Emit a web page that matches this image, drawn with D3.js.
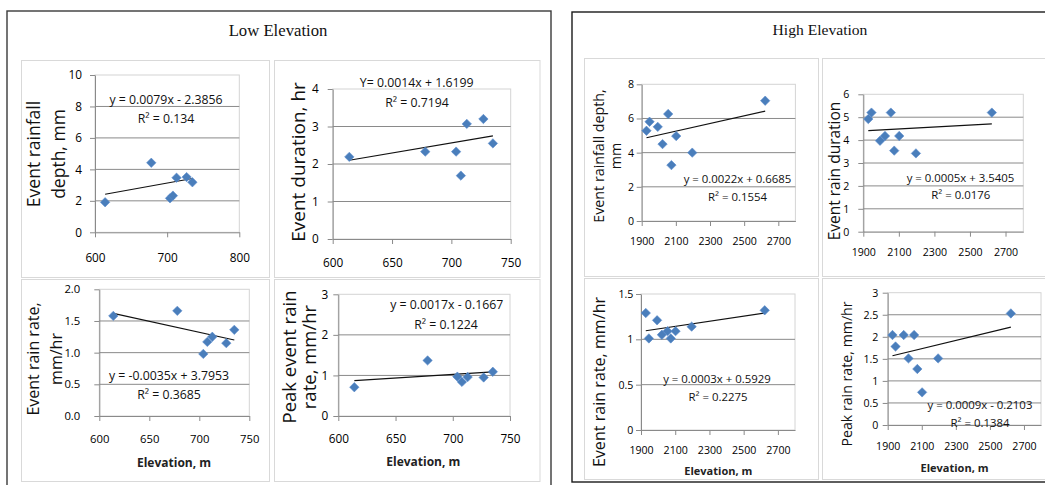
<!DOCTYPE html>
<html><head><meta charset="utf-8">
<script src="https://cdn.jsdelivr.net/npm/d3@7"></script>
<style>body{margin:0;background:#fff} svg{display:block}</style>
</head><body>
<svg id="c" width="1045" height="485"></svg>
<script>
// ---------------- DATA ----------------
const lowElevation = [614, 678, 704, 708, 713, 727, 735];
const lowDepth     = [1.91, 4.42, 2.16, 2.33, 3.47, 3.51, 3.18];
const lowDuration  = [2.19, 2.33, 2.33, 1.69, 3.07, 3.20, 2.55];
const lowRate      = [1.58, 1.66, 0.98, 1.17, 1.25, 1.15, 1.36];
const lowPeak      = [0.71, 1.37, 0.97, 0.84, 0.96, 0.95, 1.09];

const highElevation = [1928, 1946, 1994, 2022, 2055, 2074, 2102, 2196, 2623];
const highDepth     = [5.28, 5.81, 5.51, 4.50, 6.26, 3.27, 4.97, 4.00, 7.04];
const highDuration  = [4.92, 5.20, 3.97, 4.18, 5.20, 3.54, 4.18, 3.42, 5.20];
const highRate      = [1.29, 1.01, 1.21, 1.05, 1.09, 1.01, 1.09, 1.14, 1.32];
const highPeak      = [2.04, 1.78, 2.04, 1.51, 2.04, 1.27, 0.74, 1.51, 2.53];

// trend line values at the first and last elevation
const lowDepthTrend    = [2.42, 3.42];
const lowDurationTrend = [2.10, 2.75];
const lowRateTrend     = [1.62, 1.20];
const lowPeakTrend     = [0.87, 1.09];
const highDepthTrend    = [4.87, 6.43];
const highDurationTrend = [4.41, 4.71];
const highRateTrend     = [1.095, 1.29];
const highPeakTrend     = [1.57, 2.22];

const equations = {
  L1: ["y = 0.0079x - 2.3856", "R\u00b2 = 0.134"],
  L2: ["Y= 0.0014x + 1.6199", "R\u00b2 = 0.7194"],
  L3: ["y = -0.0035x + 3.7953", "R\u00b2 = 0.3685"],
  L4: ["y = 0.0017x - 0.1667", "R\u00b2 = 0.1224"],
  H1: ["y = 0.0022x + 0.6685", "R\u00b2 = 0.1554"],
  H2: ["y = 0.0005x + 3.5405", "R\u00b2 = 0.0176"],
  H3: ["y = 0.0003x + 0.5929", "R\u00b2 = 0.2275"],
  H4: ["y = 0.0009x - 0.2103", "R\u00b2 = 0.1384"]
};
const yTitles = {
  L1: ["Event rainfall", "depth, mm"],
  L2: ["Event duration, hr"],
  L3: ["Event rain rate,", "mm/hr"],
  L4: ["Peak event rain", "rate, mm/hr"],
  H1: ["Event rainfall depth,", "mm"],
  H2: ["Event rain duration"],
  H3: ["Event rain rate, mm/hr"],
  H4: ["Peak rain rate, mm/hr"]
};
const xTitle = "Elevation, m";
const groupTitles = ["Low Elevation", "High Elevation"];

const lowXTicksA = [600, 700, 800];
const lowXTicksB = [600, 650, 700, 750];
const highXTicks = [1900, 2100, 2300, 2500, 2700];
const yTicksL1 = [0, 2, 4, 6, 8, 10];
const yTicksL2 = [0, 1, 2, 3, 4];
const yTicksL3 = [0, 0.5, 1, 1.5, 2];
const yTicksL4 = [0, 1, 2, 3];
const yTicksH1 = [0, 2, 4, 6, 8];
const yTicksH2 = [0, 1, 2, 3, 4, 5, 6];
const yTicksH3 = [0, 0.5, 1, 1.5];
const yTicksH4 = [0, 0.5, 1, 1.5, 2, 2.5, 3];

// ---------------- LAYOUT ----------------
const fmtInt = d3.format("d");
const fmt1 = d3.format(".1f");
const fmtPlain = d => String(d);
const panels = [
  {id:"L1", xs:lowElevation, ys:lowDepth, trend:lowDepthTrend, xDom:[600,800], xTicks:lowXTicksA, yDom:[0,10], yTicks:yTicksL1, fmt:fmtInt,
   plot:[95,239.3,75,232.3], tf:11.8, yOff:13, xLab:262, ef:12.3, eq:[[166,104],[166,123]], tt:{lines:[40.3,64.5], cy:154, f:17.5}},
  {id:"L2", xs:lowElevation, ys:lowDuration, trend:lowDurationTrend, xDom:[600,750], xTicks:lowXTicksB, yDom:[0,4], yTicks:yTicksL2, fmt:fmtInt,
   plot:[332.7,510.7,89,239], tf:11.8, yOff:14, xLab:267, ef:12.3, eq:[[416.7,87],[417,107]], tt:{lines:[305], cy:162, f:19}},
  {id:"L3", xs:lowElevation, ys:lowRate, trend:lowRateTrend, xDom:[600,750], xTicks:lowXTicksB, yDom:[0,2], yTicks:yTicksL3, fmt:fmt1,
   plot:[99.3,249.3,289.3,416], tf:11.3, yOff:19, xLab:443, ef:12.3, eq:[[169,380],[169,399]], tt:{lines:[38.5,61.5], cy:359, f:16}, xt:[174,467,12]},
  {id:"L4", xs:lowElevation, ys:lowPeak, trend:lowPeakTrend, xDom:[600,750], xTicks:lowXTicksB, yDom:[0,3], yTicks:yTicksL4, fmt:fmtInt,
   plot:[338.3,510,294.3,416], tf:11.8, yOff:10, xLab:443, ef:12.3, eq:[[446.7,309],[446,329]], tt:{lines:[296,316], cy:357, f:18.5}, xt:[423.3,466,12]},
  {id:"H1", xs:highElevation, ys:highDepth, trend:highDepthTrend, xDom:[1900,2800], xTicks:highXTicks, yDom:[0,8], yTicks:yTicksH1, fmt:fmtInt,
   plot:[641.7,795.4,84.3,221], tf:10.6, yOff:7.7, xLab:245, ef:11.4, eq:[[737.5,183],[737.5,200.7]], tt:{lines:[604,621], cy:156, f:14.3}},
  {id:"H2", xs:highElevation, ys:highDuration, trend:highDurationTrend, xDom:[1900,2800], xTicks:highXTicks, yDom:[0,6], yTicks:yTicksH2, fmt:fmtInt,
   plot:[863.3,1023.3,94.3,231.7], tf:10.6, yOff:14, xLab:256, ef:11.4, eq:[[960.5,181.5],[960.8,199]], tt:{lines:[840], cy:171, f:15.5}},
  {id:"H3", xs:highElevation, ys:highRate, trend:highRateTrend, xDom:[1900,2800], xTicks:highXTicks, yDom:[0,1.5], yTicks:yTicksH3, fmt:fmtPlain,
   plot:[641,795,294,430], tf:10.6, yOff:7.7, xLab:454, ef:11.4, eq:[[717,383.3],[718,401]], tt:{lines:[605], cy:382, f:16.1}, xt:[718.3,475,11]},
  {id:"H4", xs:highElevation, ys:highPeak, trend:highPeakTrend, xDom:[1900,2800], xTicks:highXTicks, yDom:[0,3], yTicks:yTicksH4, fmt:fmtPlain,
   plot:[887.7,1041,292.7,425], tf:10.6, yOff:9.4, xLab:450, ef:11.4, eq:[[980,409],[980,426.7]], tt:{lines:[852], cy:374, f:14.2}, xt:[954.5,472,11]}
];

const frames = [
  {x:7, y:11, w:544, h:490, stroke:"#3a3a3a", title:[278,36,16.7]},
  {x:572, y:12, w:490, h:470, stroke:"#1a1a1a", title:[820,35,15.6]}
];
const subPanels = [
  [21,60,269,277],[274,60,539.5,277],[21,279,269,481],[274,279,539.5,481],
  [584,58,818,276],[822,58,1060,276],[584,278,818,479],[822,278,1060,479]
];

const SANS = "'Open Sans', 'Noto Sans', sans-serif";
const SERIF = "'Liberation Serif', 'Times New Roman', serif";
const GRID = "#8a8a8a";
const MARK = "#4a7ebb";

const svg = d3.select("#c");
svg.append("rect").attr("width",1045).attr("height",485).attr("fill","#fff");

// frames
frames.forEach((f,i) => {
  svg.append("rect").attr("x",f.x).attr("y",f.y).attr("width",f.w).attr("height",f.h)
    .attr("fill","#fff").attr("stroke",f.stroke).attr("stroke-width",1.4);
  svg.append("text").attr("x",f.title[0]).attr("y",f.title[1]).attr("text-anchor","middle")
    .attr("font-family",SERIF).attr("font-size",f.title[2]).attr("fill","#111").text(groupTitles[i]);
});
subPanels.forEach(s => {
  svg.append("rect").attr("x",s[0]+0.5).attr("y",s[1]+0.5).attr("width",s[2]-s[0]).attr("height",s[3]-s[1])
    .attr("fill","#fff").attr("stroke","#d9d9d9").attr("stroke-width",1);
});

function diamond(r){ return `M0,${-r}L${r},0L0,${r}L${-r},0Z`; }

panels.forEach(p => {
  const [x0,x1,yt,yb] = p.plot;
  const xS = d3.scaleLinear().domain(p.xDom).range([x0,x1]);
  const yS = d3.scaleLinear().domain(p.yDom).range([yb,yt]);
  const g = svg.append("g");

  // plot area border
  g.append("rect").attr("x",x0).attr("y",yt).attr("width",x1-x0).attr("height",yb-yt)
    .attr("fill","none").attr("stroke","#d4d4d4").attr("stroke-width",1);
  // gridlines
  g.selectAll("line.grid").data(p.yTicks.slice(1,-1)).join("line").attr("class","grid")
    .attr("x1",x0).attr("x2",x1).attr("y1",d=>yS(d)).attr("y2",d=>yS(d))
    .attr("stroke",GRID).attr("stroke-width",1);

  // y axis
  const ya = g.append("g").attr("transform",`translate(${x0},0)`)
    .call(d3.axisLeft(yS).tickValues(p.yTicks).tickFormat(p.fmt).tickSize(5).tickSizeOuter(0).tickPadding(p.yOff-5));
  // x axis
  const xa = g.append("g").attr("transform",`translate(0,${yb})`)
    .call(d3.axisBottom(xS).tickValues(p.xTicks).tickFormat(fmtInt).tickSize(5).tickSizeOuter(0));
  [ya,xa].forEach(a => {
    a.select(".domain").attr("stroke",GRID);
    a.selectAll(".tick line").attr("stroke",GRID);
    a.selectAll("text").attr("font-family",SANS).attr("font-size",p.tf).attr("fill","#000");
  });
  xa.selectAll("text").attr("y",p.xLab-yb).attr("dy",0);

  // trend line
  const ex = d3.extent(p.xs);
  g.append("line").attr("x1",xS(ex[0])).attr("x2",xS(ex[1]))
    .attr("y1",yS(p.trend[0])).attr("y2",yS(p.trend[1]))
    .attr("stroke","#111").attr("stroke-width",1.2);

  // points
  g.selectAll("path.pt").data(p.xs.map((x,i)=>[x,p.ys[i]])).join("path").attr("class","pt")
    .attr("d",diamond(4.7)).attr("transform",d=>`translate(${xS(d[0])},${yS(d[1])})`)
    .attr("fill",MARK).attr("stroke","#5a8ccc").attr("stroke-width",0.6);

  // equation labels
  equations[p.id].forEach((t,i) => {
    g.append("text").attr("x",p.eq[i][0]).attr("y",p.eq[i][1]).attr("text-anchor","middle")
      .attr("font-family",SANS).attr("font-size",p.ef).attr("fill","#111").text(t);
  });

  // y axis title
  yTitles[p.id].forEach((t,i) => {
    g.append("text").attr("transform",`translate(${p.tt.lines[i]},${p.tt.cy}) rotate(-90)`)
      .attr("text-anchor","middle").attr("font-family",SANS).attr("font-size",p.tt.f)
      .attr("fill","#111").text(t);
  });

  // x axis title
  if (p.xt) {
    g.append("text").attr("x",p.xt[0]).attr("y",p.xt[1]).attr("text-anchor","middle")
      .attr("font-family",SANS).attr("font-weight","bold").attr("font-size",p.xt[2])
      .attr("fill","#222").text(xTitle);
  }
});
</script>
</body></html>
